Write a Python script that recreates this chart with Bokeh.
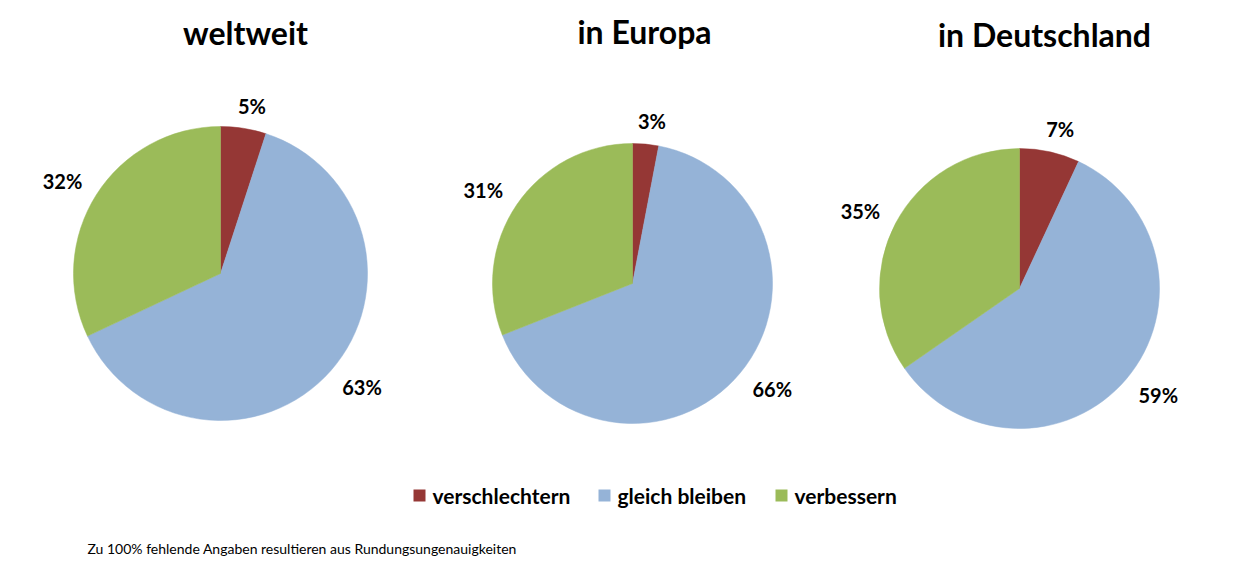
import math
from bokeh.plotting import figure
from bokeh.models import Range1d
from bokeh.core.properties import value
from bokeh.embed import file_html
from bokeh.resources import INLINE

# ---- data ----
categories = ["verschlechtern", "gleich bleiben", "verbessern"]
colors = ["#953735", "#95B3D7", "#9BBB59"]
titles = ["weltweit", "in Europa", "in Deutschland"]
weltweit = [5, 63, 32]
europa = [3, 66, 31]
deutschland = [7, 59, 35]
series = [weltweit, europa, deutschland]
footnote = "Zu 100% fehlende Angaben resultieren aus Rundungsungenauigkeiten"

# ---- layout (pixel coordinates, y up) ----
W, H = 1240, 566
FONT = "Lato"
centers = [(220, 293), (632, 283), (1019, 278)]
radii = [147, 140, 140]
title_pos = [(245, 534), (644, 535), (1044, 532)]

p = figure(width=W, height=H, x_range=Range1d(0, W), y_range=Range1d(0, H),
           output_backend="svg", toolbar_location=None, min_border=0)
p.axis.visible = False
p.grid.visible = False
p.outline_line_color = None
p.background_fill_color = "white"
p.border_fill_color = "white"


def sroot(t):
    return math.copysign(math.sqrt(abs(t)), t)


for (cx, cy), r, vals, title, tp in zip(centers, radii, series, titles, title_pos):
    total = float(sum(vals))
    cum = 0.0
    for v, c in zip(vals, colors):
        a0 = math.pi / 2 - 2 * math.pi * cum / total
        a1 = math.pi / 2 - 2 * math.pi * (cum + v) / total
        p.wedge(x=cx, y=cy, radius=r, start_angle=a1, end_angle=a0,
                fill_color=c, line_color=c, line_width=0.5)
        mid = 2 * math.pi * (cum + v / 2) / total  # clockwise from top
        ux, uy = math.sin(mid), math.cos(mid)
        label = f"{v}%"
        half_w = 8 * len(label)
        R = r + 14
        lx = cx + ux * R + sroot(ux) * half_w
        ly = cy + uy * R + sroot(uy) * 9
        p.text(x=[lx], y=[ly], text=[label], text_font=value(FONT),
               text_font_style="bold", text_font_size="20px",
               text_align="center", text_baseline="middle", text_color="black")
        cum += v
    p.text(x=[tp[0]], y=[tp[1]], text=[title], text_font=value(FONT),
           text_font_style="bold", text_font_size="32px",
           text_align="center", text_baseline="alphabetic", text_color="black")

# legend
legend_sq_x = [419, 604, 781]
legend_y = 71
for sx, cat, c in zip(legend_sq_x, categories, colors):
    p.rect(x=sx, y=legend_y, width=12, height=12, fill_color=c, line_color=None)
    p.text(x=[sx + 13], y=[legend_y], text=[cat], text_font=value(FONT),
           text_font_style="bold", text_font_size="21px",
           text_align="left", text_baseline="middle", text_color="black")

p.text(x=[87], y=[18], text=[footnote], text_font=value(FONT),
       text_font_size="14px", text_align="left", text_baseline="middle",
       text_color="black")

open("out.html", "w").write(file_html(p, INLINE))
